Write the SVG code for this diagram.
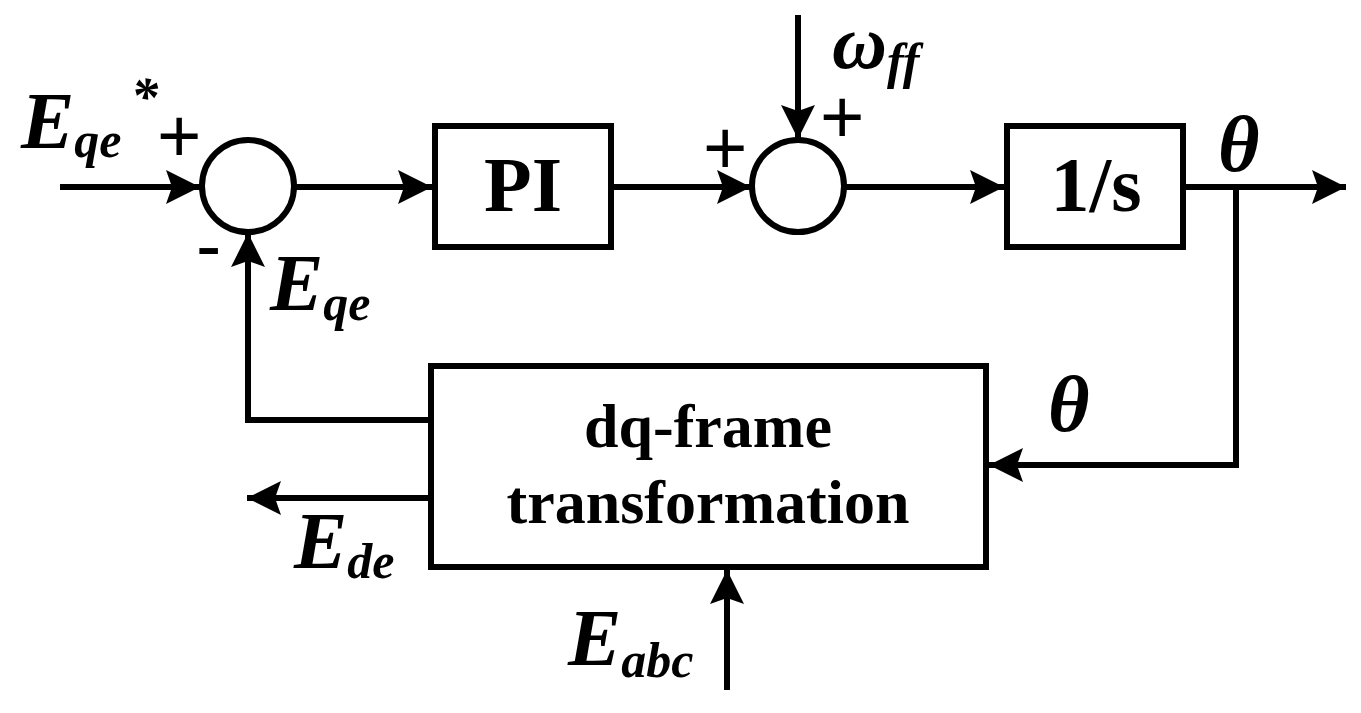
<svg xmlns="http://www.w3.org/2000/svg" width="1361" height="713" viewBox="0 0 1361 713">
<style>
.ln{fill:none;stroke:#000;stroke-width:6;stroke-linejoin:miter}
.box{fill:#fff;stroke:#000;stroke-width:6}
.bt{font-family:"Liberation Serif",serif;font-weight:bold;fill:#000}
.lab{font-family:"Liberation Serif",serif;font-weight:bold;font-style:italic;fill:#000;font-size:80px}
.sub{font-size:50px}
.star{font-size:54px}
.om{font-size:76px}
.sg{font-family:"Liberation Sans",sans-serif;fill:#000;font-size:76px}
</style>
<defs>
<marker id="ah" markerUnits="userSpaceOnUse" markerWidth="36" markerHeight="36" viewBox="0 0 36 36" refX="34" refY="18" orient="auto">
<path d="M0,1 L34,18 L0,35 L6,18 Z" fill="#000"/>
</marker>
</defs>
<rect width="1361" height="713" fill="#fff"/>
<g id="connectors">
<line class="ln" x1="60" y1="187" x2="200" y2="187" marker-end="url(#ah)"/>
<line class="ln" x1="295" y1="187" x2="432" y2="187" marker-end="url(#ah)"/>
<line class="ln" x1="612" y1="187" x2="751" y2="187" marker-end="url(#ah)"/>
<line class="ln" x1="798" y1="15" x2="798" y2="139" marker-end="url(#ah)"/>
<line class="ln" x1="845" y1="187" x2="1004" y2="187" marker-end="url(#ah)"/>
<line class="ln" x1="1185" y1="187" x2="1346" y2="187" marker-end="url(#ah)"/>
<polyline class="ln" points="1236,187 1236,465 989,465" marker-end="url(#ah)"/>
<polyline class="ln" points="430,420 248,420 248,233" marker-end="url(#ah)"/>
<line class="ln" x1="430" y1="498" x2="247" y2="498" marker-end="url(#ah)"/>
<line class="ln" x1="727" y1="690" x2="727" y2="570" marker-end="url(#ah)"/>
</g>
<g id="sum1">
<circle class="box" cx="248" cy="186" r="46"/>
</g>
<g id="pi">
<rect class="box" x="435" y="126" width="176" height="121"/>
<text class="bt" x="523" y="211" font-size="78" text-anchor="middle">PI</text>
</g>
<g id="sum2">
<circle class="box" cx="798" cy="186" r="46"/>
</g>
<g id="integrator">
<rect class="box" x="1007" y="126" width="176" height="121"/>
<text class="bt" x="1096" y="211" font-size="78" text-anchor="middle">1/s</text>
</g>
<g id="dq">
<rect class="box" x="431" y="366" width="555" height="201"/>
<text class="bt" x="708" y="447" font-size="62" text-anchor="middle">dq-frame</text>
<text class="bt" x="708" y="523" font-size="62" text-anchor="middle">transformation</text>
</g>
<g id="labels">
<text class="lab" x="21" y="148">E<tspan class="sub" dy="9">qe</tspan></text>
<text class="lab star" x="131" y="115">*</text>
<text class="sg" x="157" y="162">+</text>
<text class="sg" x="196" y="271">-</text>
<text class="lab" x="270" y="310">E<tspan class="sub" dy="10">qe</tspan></text>
<text class="sg" x="703" y="174">+</text>
<text class="sg" x="820" y="143">+</text>
<text class="lab om" x="832" y="68">ω<tspan class="sub" dy="10">ff</tspan></text>
<text class="lab" x="1218" y="171">θ</text>
<text class="lab" x="1048" y="431">θ</text>
<text class="lab" x="294" y="568">E<tspan class="sub" dy="10">de</tspan></text>
<text class="lab" x="568" y="665">E<tspan class="sub" dy="12">abc</tspan></text>
</g>
</svg>
